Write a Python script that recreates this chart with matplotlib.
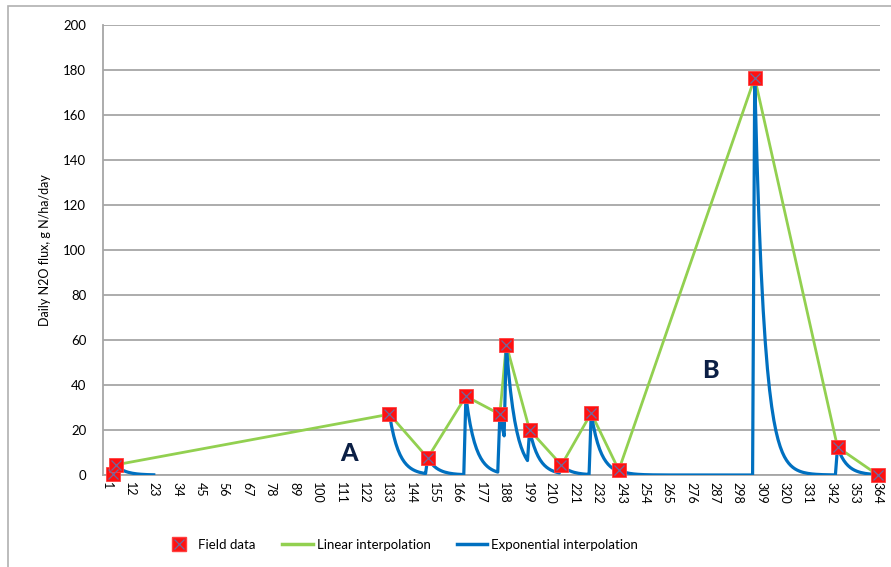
import numpy as np
import matplotlib.pyplot as plt
from matplotlib.lines import Line2D
from matplotlib.patches import Rectangle

# field measurements (day of year, g N/ha/day)
field_days = [4, 5, 134, 152, 170, 186, 189, 200, 215, 229, 242, 306, 345, 364]
field_flux = [0.3, 4.5, 27, 7.6, 35, 27, 58, 20, 4.4, 27.5, 2.2, 176.5, 12.4, 0]

# exponential interpolation: each measured peak decays until the next measurement
exp_days = [5, 134, 152, 170, 186, 189, 200, 215, 229, 242, 306, 345]
exp_peak = [4.5, 27, 7.6, 35, 27, 58, 20, 4.4, 27.5, 2.2, 176.5, 12.4]
exp_until = [23, 151, 169, 185, 188, 199, 214, 228, 241, 305, 344, 364]
decay_rate = 0.22  # per day, read from the fall after the day 306 peak

day_ticks = list(range(1, 365, 11))

days = np.arange(1, 366)
exp_flux = np.full(days.shape, np.nan)
for d0, v0, d1 in zip(exp_days, exp_peak, exp_until):
    seg = (days >= d0) & (days <= d1)
    exp_flux[seg] = v0 * np.exp(-decay_rate * (days[seg] - d0))

plt.rcParams['font.family'] = ['Lato', 'DejaVu Sans']

fig = plt.figure(figsize=(8.91, 5.67), dpi=100)
ax = fig.add_axes([103 / 891, 1 - 475 / 567, 777 / 891, 450 / 567])

green = '#92d050'
blue = '#0070c0'

ax.plot(field_days[1:], field_flux[1:], color=green, lw=2.0, zorder=3)
ax.plot(days, exp_flux, color=blue, lw=2.3, zorder=4)
ax.plot(field_days, field_flux, ls='none', marker='s', ms=9.5,
        mfc='#ff1010', mec='#ff4040', mew=0.6, zorder=5, clip_on=False)
ax.plot(field_days, field_flux, ls='none', marker='x', ms=7,
        mec='#6e6a9e', mew=0.9, zorder=6, clip_on=False)

ax.text(115, 9.5, 'A', fontsize=18, fontweight='black', color='#0b1f45',
        ha='center', va='center')
ax.text(285, 46.5, 'B', fontsize=18, fontweight='black', color='#0b1f45',
        ha='center', va='center')

ax.set_xlim(-0.9, 365)
ax.set_ylim(0, 200)
ax.set_yticks(range(0, 201, 20))
ax.set_xticks(day_ticks)
ax.set_xticklabels([str(d) for d in day_ticks], rotation=270, fontsize=9)
ax.tick_params(axis='y', length=0, pad=12, labelsize=9.5)
ax.tick_params(axis='x', length=0, pad=5)
ax.grid(axis='y', color='#a6a6a6', lw=1.3)
ax.set_axisbelow(True)
for s in ['top', 'right']:
    ax.spines[s].set_visible(False)
ax.spines['left'].set_color('#a6a6a6')
ax.spines['bottom'].set_color('#a6a6a6')
ax.spines['left'].set_linewidth(1.3)
ax.spines['bottom'].set_linewidth(1.3)
ax.set_ylabel('Daily N2O flux, g N/ha/day', fontsize=9, labelpad=9)

handles = [
    (Line2D([], [], ls='none', marker='s', ms=9.5, mfc='#ff1010', mec='#ff4040'),
     Line2D([], [], ls='none', marker='x', ms=7, mec='#6e6a9e', mew=0.9)),
    Line2D([], [], color=green, lw=2.5),
    Line2D([], [], color=blue, lw=2.5),
]
labels = ['Field data', 'Linear interpolation', 'Exponential interpolation']
fig.legend(handles, labels, loc='center', bbox_to_anchor=(401 / 891, 1 - 545 / 567),
           ncol=3, frameon=False, fontsize=9.5, handlelength=2.3,
           columnspacing=2.0, handletextpad=0.3)

fig.patches.append(Rectangle((8 / 891, -0.01), 1.0, 1 - 6 / 567 + 0.01,
                             transform=fig.transFigure, fill=False,
                             edgecolor='#b0b0b0', lw=1.2))

fig.savefig('out.png', dpi=100)
